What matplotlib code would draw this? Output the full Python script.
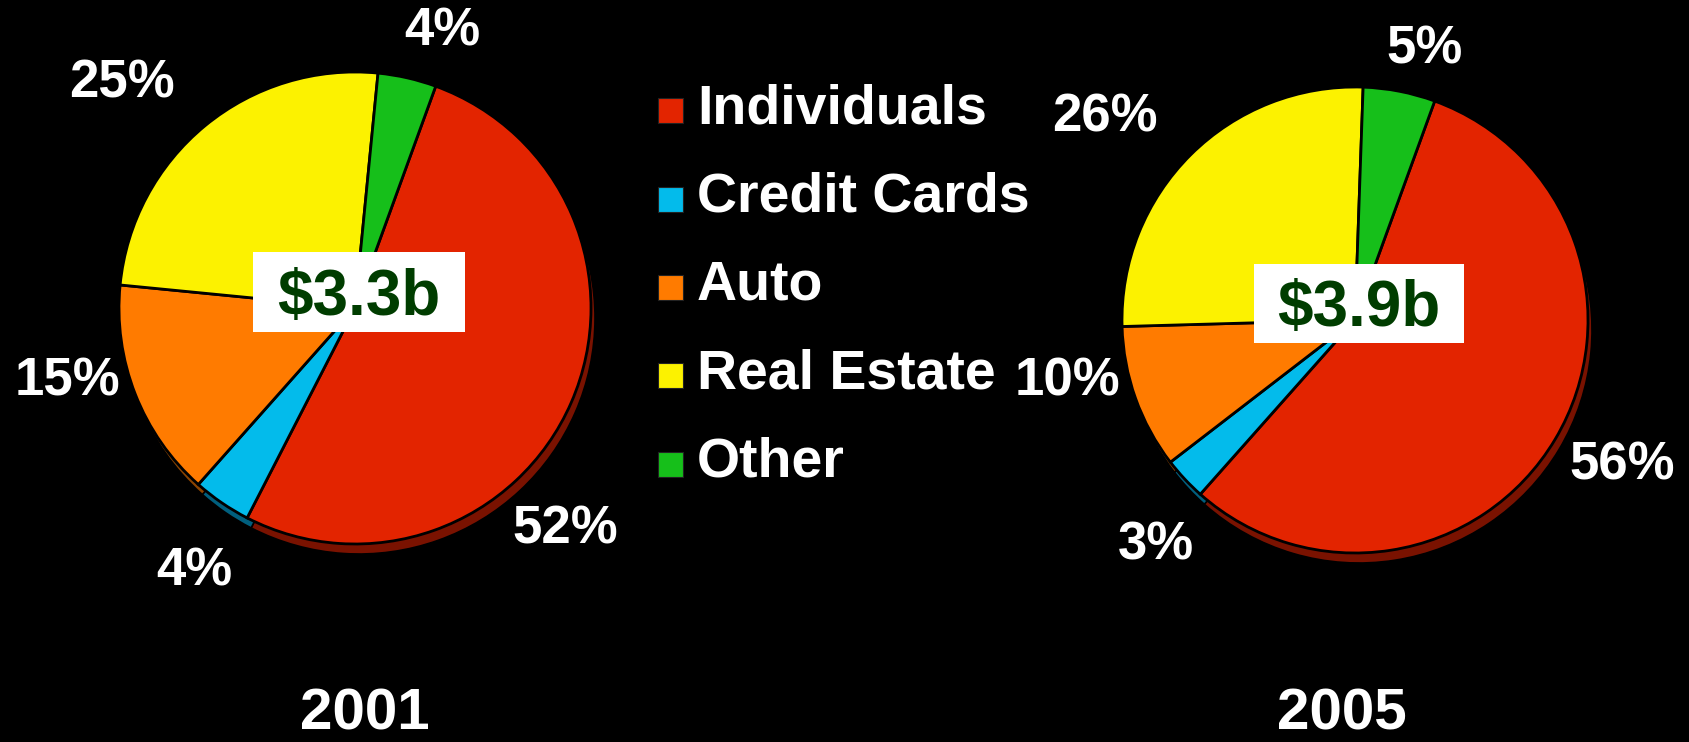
import matplotlib.pyplot as plt
from matplotlib.patches import Rectangle

# ---- data ----
categories = ['Individuals', 'Credit Cards', 'Auto', 'Real Estate', 'Other']
shares_2001 = [52, 4, 15, 25, 4]
shares_2005 = [56, 3, 10, 26, 5]
years = ['2001', '2005']
totals = ['$3.3b', '$3.9b']

colors = ['#E32400', '#03BBEB', '#FF7B00', '#FCF200', '#16BF1A']
side_colors = ['#7A1200', '#005F7E', '#8C4400', '#8A8400', '#0B6A0E']

W, H = 1690, 742
FONT = 'Liberation Sans'


def Y(y):
    # pixel row (top-down) -> data y (bottom-up)
    return H - y


fig = plt.figure(figsize=(W / 100, H / 100), dpi=100, facecolor='black')
ax = fig.add_axes([0, 0, 1, 1])
ax.set_facecolor('black')
ax.set_xlim(0, W)
ax.set_ylim(0, H)
ax.set_aspect('equal')
ax.axis('off')

# layout per pie: center, radius, startangle, label positions, year pos, box
pies = [
    dict(values=shares_2001, center=(355, 308), r=236, start=70,
         labels=[(565, 524), (194, 566), (67, 377), (122, 79), (442, 27)],
         year=(365, 709), box=(253, 252, 212, 80)),
    dict(values=shares_2005, center=(1355, 320), r=233, start=70,
         labels=[(1622, 461), (1156, 541), (1067, 377), (1105, 113), (1425, 45)],
         year=(1342, 709), box=(1254, 264, 210, 79)),
]

for p, year, total in zip(pies, years, totals):
    cx, cy = p['center']
    # extruded side of the tilted pie
    ax.pie(p['values'], colors=side_colors, startangle=p['start'], counterclock=False,
           radius=p['r'], center=(cx + 4, Y(cy) - 10), frame=True,
           wedgeprops=dict(edgecolor='black', linewidth=1.2))
    # top face
    ax.pie(p['values'], colors=colors, startangle=p['start'], counterclock=False,
           radius=p['r'], center=(cx, Y(cy)), frame=True,
           wedgeprops=dict(edgecolor='black', linewidth=2))

    # percentage labels
    for v, (lx, ly) in zip(p['values'], p['labels']):
        ax.text(lx, Y(ly + 19), f'{v}%', color='white', fontsize=38,
                fontweight='bold', family=FONT, ha='center', va='baseline')

    # year
    yx, yy = p['year']
    ax.text(yx, Y(yy + 21), year, color='white', fontsize=42,
            fontweight='bold', family=FONT, ha='center', va='baseline')

    # total box
    bx, by, bw, bh = p['box']
    ax.add_patch(Rectangle((bx, Y(by + bh)), bw, bh, facecolor='white',
                           edgecolor='none', zorder=5))
    ax.text(bx + bw / 2, Y(by + bh / 2 + 23), total, color='#003D00', fontsize=46,
            fontweight='bold', family=FONT, ha='center', va='baseline', zorder=6)

ax.set_xlim(0, W)
ax.set_ylim(0, H)

# legend
for i, (name, c) in enumerate(zip(categories, colors)):
    row = 103 + i * 88.5
    ax.add_patch(Rectangle((658, Y(row + 20)), 25, 25, facecolor=c,
                           edgecolor='#222222', linewidth=0.8, zorder=5))
    ax.text(697, Y(row + 20), name, color='white', fontsize=40,
            fontweight='bold', family=FONT, ha='left', va='baseline')

fig.savefig('out.png', dpi=100, facecolor='black')
